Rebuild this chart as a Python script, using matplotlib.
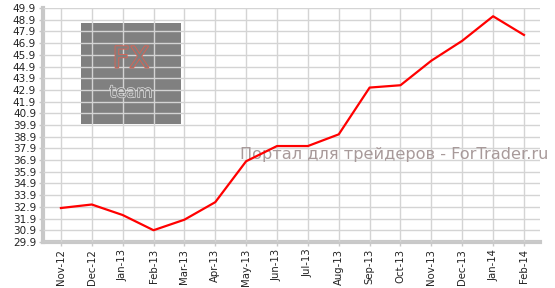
import matplotlib.pyplot as plt
import matplotlib.patheffects as pe
from matplotlib.patches import Rectangle

months = ["Nov-12", "Dec-12", "Jan-13", "Feb-13", "Mar-13", "Apr-13", "May-13", "Jun-13",
          "Jul-13", "Aug-13", "Sep-13", "Oct-13", "Nov-13", "Dec-13", "Jan-14", "Feb-14"]
values = [32.8, 33.1, 32.2, 30.9, 31.8, 33.3, 36.8, 38.1,
          38.1, 39.1, 43.1, 43.3, 45.4, 47.1, 49.2, 47.6]
yticks = [29.9 + i for i in range(21)]

fig = plt.figure(figsize=(5.55, 2.88), dpi=100)
ax = fig.add_axes([0.0775, 0.160, 0.8955, 0.812])

x = list(range(len(months)))
ax.plot(x, values, color="#ff0000", lw=1.6, zorder=5)

ax.set_xlim(-0.58, 15.52)
ax.set_ylim(29.9, 49.9)
ax.set_xticks(x)
ax.set_xticklabels(months, rotation=90, fontsize=7.3, color="#222222")
ax.set_yticks(yticks)
ax.set_yticklabels(["%.1f" % v for v in yticks], fontsize=7.5, color="#222222")

ax.grid(True, color="#d4d4d4", lw=1, zorder=2)
ax.set_axisbelow(False)
for s in ["top", "right"]:
    ax.spines[s].set_visible(False)
for s in ["left", "bottom"]:
    ax.spines[s].set_color("#c8c8c8")
    ax.spines[s].set_linewidth(3)
ax.tick_params(axis="both", length=3, color="#c8c8c8", width=1, pad=2)

# logo box
ax.add_patch(Rectangle((0.0765, 0.505), 0.201, 0.431, transform=ax.transAxes,
                       facecolor="#808080", edgecolor="none", zorder=1))
ax.text(0.177, 0.78, "FX", transform=ax.transAxes, ha="center", va="center",
        fontsize=21, color="#808080", zorder=3, fontstretch="expanded",
        path_effects=[pe.withStroke(linewidth=1.2, foreground="#e06050")])
ax.text(0.177, 0.64, "team", transform=ax.transAxes, ha="center", va="center",
        fontsize=12, color="#808080", zorder=3,
        path_effects=[pe.withStroke(linewidth=1, foreground="#dddddd")])

# watermark
ax.text(0.706, 0.372, "Портал для трейдеров - ForTrader.ru", transform=ax.transAxes,
        ha="center", va="center", fontsize=11.6, color="#a89a9a", zorder=4)

fig.savefig("out.png", dpi=100)
